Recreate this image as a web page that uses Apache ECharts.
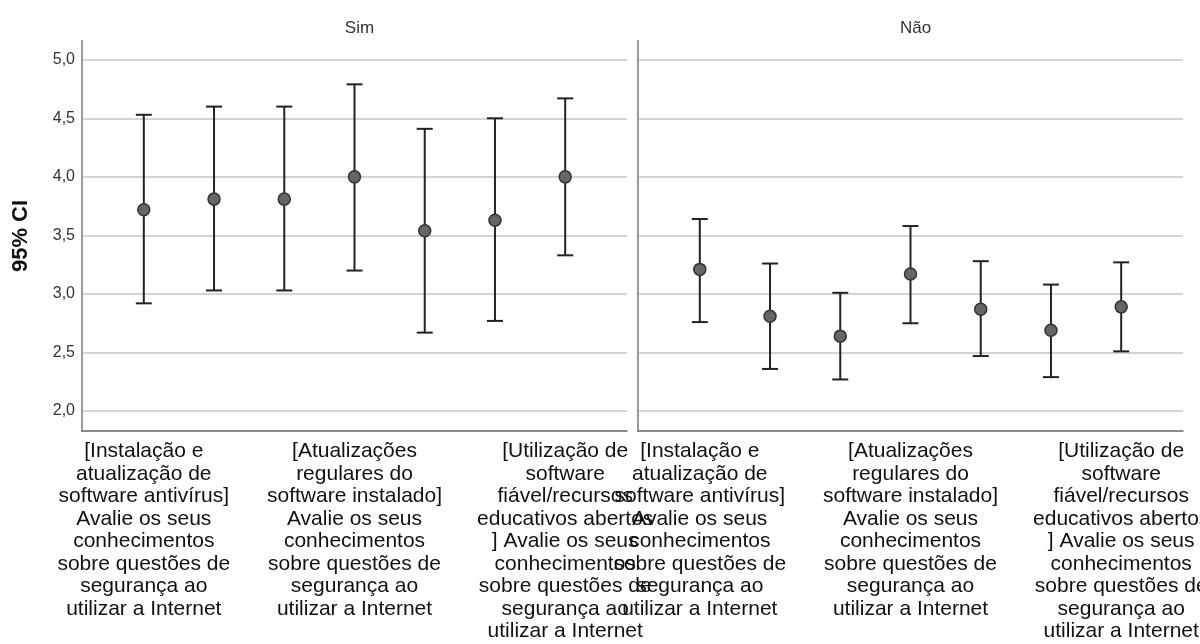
<!DOCTYPE html>
<html>
<head>
<meta charset="utf-8">
<script src="https://cdn.jsdelivr.net/npm/echarts@6/dist/echarts.min.js"></script>
<style>
  html, body { margin: 0; padding: 0; background: #fff; }
  #chart { width: 1200px; height: 644px; }
</style>
</head>
<body>
<div id="chart"></div>
<script>
// ---- Data ----
const panels = ['Sim', 'Não'];
const categories = [
  '[Instalação e\natualização de\nsoftware antivírus]\nAvalie os seus\nconhecimentos\nsobre questões de\nsegurança ao\nutilizar a Internet',
  'Item 2',
  'Item 3',
  '[Atualizações\nregulares do\nsoftware instalado]\nAvalie os seus\nconhecimentos\nsobre questões de\nsegurança ao\nutilizar a Internet',
  'Item 5',
  'Item 6',
  '[Utilização de\nsoftware\nfiável/recursos\neducativos abertos\n] Avalie os seus\nconhecimentos\nsobre questões de\nsegurança ao\nutilizar a Internet'
];
const labeledIdx = [0, 3, 6];
const yTicks = [2.0, 2.5, 3.0, 3.5, 4.0, 4.5, 5.0];

const simMean = [3.72, 3.81, 3.81, 4.00, 3.54, 3.63, 4.00];
const simLow  = [2.92, 3.03, 3.03, 3.20, 2.67, 2.77, 3.33];
const simHigh = [4.53, 4.60, 4.60, 4.79, 4.41, 4.50, 4.67];

const naoMean = [3.21, 2.81, 2.64, 3.17, 2.87, 2.69, 2.89];
const naoLow  = [2.76, 2.36, 2.27, 2.75, 2.47, 2.29, 2.51];
const naoHigh = [3.64, 3.26, 3.01, 3.58, 3.28, 3.08, 3.27];

// ---- Chart ----
const FONT = '"Liberation Sans", Arial, sans-serif';
const chart = echarts.init(document.getElementById('chart'));

const grids = [
  { left: 82, top: 41, width: 545, height: 390, outerBoundsMode: 'none' },
  { left: 638, top: 41, width: 545, height: 390, outerBoundsMode: 'none' }
];

function xAxisFor(gi) {
  return {
    type: 'value', gridIndex: gi, min: -0.88, max: 6.88,
    splitLine: { show: false },
    axisTick: { show: false, customValues: labeledIdx },
    axisLine: { show: true, onZero: false, lineStyle: { color: '#666', width: 1.5 } },
    axisLabel: {
      customValues: labeledIdx,
      formatter: v => categories[Math.round(v)],
      color: '#111', fontFamily: FONT, fontSize: 21, lineHeight: 22.5,
      margin: 9, align: 'center', verticalAlign: 'top'
    }
  };
}
function yAxisFor(gi) {
  return {
    type: 'value', gridIndex: gi, min: 1.83, max: 5.16,
    name: gi === 0 ? '95% CI' : '',
    nameLocation: 'middle', nameGap: 50, nameRotate: 90,
    nameTextStyle: { fontFamily: FONT, fontSize: 22, fontWeight: 'bold', color: '#111' },
    axisLine: { show: true, onZero: false, lineStyle: { color: '#999', width: 2 } },
    axisTick: { show: false, customValues: yTicks },
    splitLine: { show: true, lineStyle: { color: '#d4d4d4', width: 2 } },
    axisLabel: {
      show: gi === 0,
      customValues: yTicks,
      formatter: v => v.toFixed(1).replace('.', ','),
      color: '#333', fontFamily: FONT, fontSize: 16, margin: 7
    }
  };
}

function errSeries(gi, low, high) {
  return {
    type: 'custom', xAxisIndex: gi, yAxisIndex: gi, z: 2,
    data: low.map((l, i) => [i, l, high[i]]),
    renderItem: function (params, api) {
      const x = api.value(0);
      const lo = api.coord([x, api.value(1)]);
      const hi = api.coord([x, api.value(2)]);
      const hw = 8;
      const style = { stroke: '#222', lineWidth: 2 };
      return {
        type: 'group',
        children: [
          { type: 'line', shape: { x1: hi[0], y1: hi[1], x2: lo[0], y2: lo[1] }, style },
          { type: 'line', shape: { x1: hi[0] - hw, y1: hi[1], x2: hi[0] + hw, y2: hi[1] }, style },
          { type: 'line', shape: { x1: lo[0] - hw, y1: lo[1], x2: lo[0] + hw, y2: lo[1] }, style }
        ]
      };
    }
  };
}
function meanSeries(gi, mean) {
  return {
    type: 'scatter', xAxisIndex: gi, yAxisIndex: gi, z: 3,
    symbol: 'circle', symbolSize: 12,
    itemStyle: { color: '#666', borderColor: '#333', borderWidth: 1.5, opacity: 1 },
    data: mean.map((m, i) => [i, m])
  };
}

chart.setOption({
  animation: false,
  backgroundColor: '#fff',
  title: panels.map((p, i) => ({
    text: p, left: (i === 0 ? 82 : 638) + 272.5, top: 15, textAlign: 'center',
    textStyle: { fontFamily: FONT, fontSize: 17, fontWeight: 'normal', color: '#333' }
  })),
  grid: grids,
  xAxis: [xAxisFor(0), xAxisFor(1)],
  yAxis: [yAxisFor(0), yAxisFor(1)],
  series: [
    errSeries(0, simLow, simHigh), meanSeries(0, simMean),
    errSeries(1, naoLow, naoHigh), meanSeries(1, naoMean)
  ]
});
</script>
</body>
</html>
